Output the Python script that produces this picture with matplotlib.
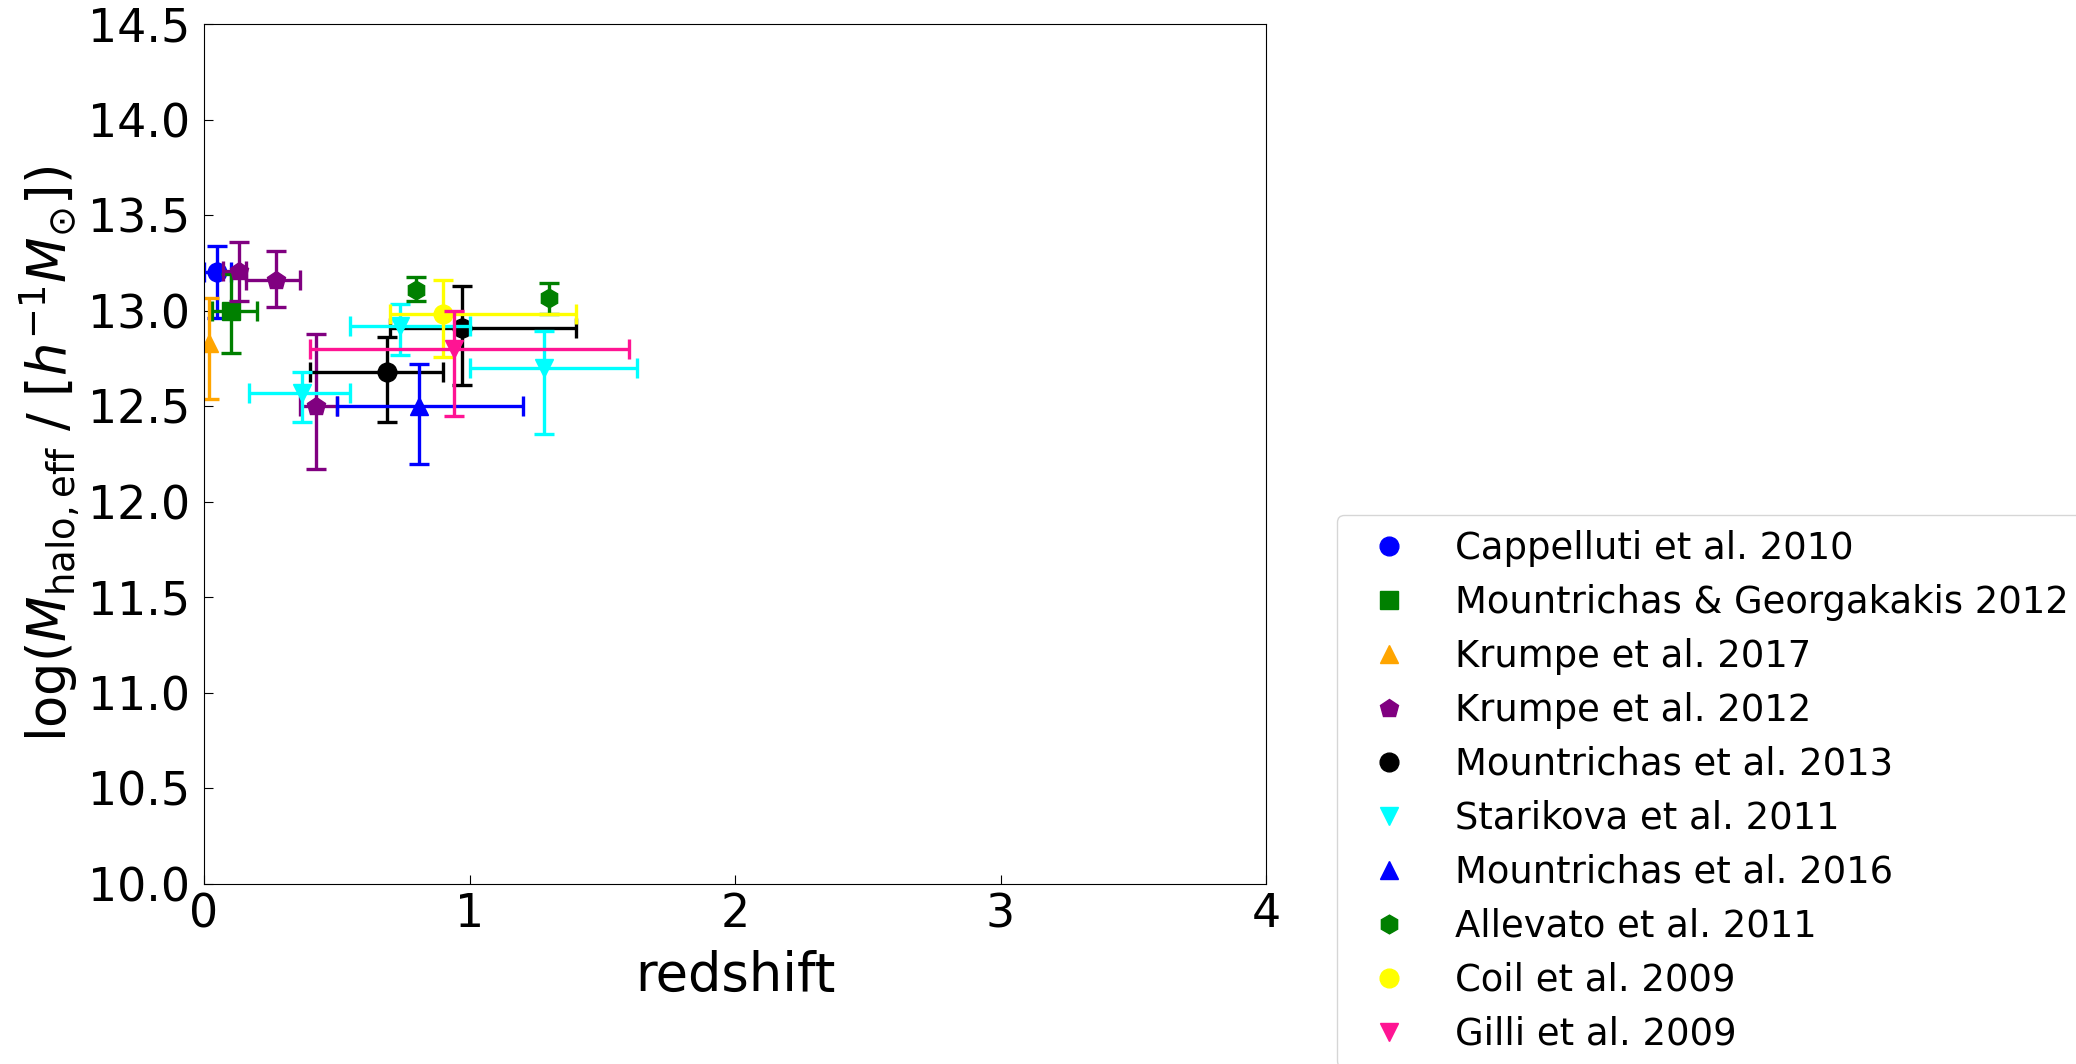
import numpy as np
import matplotlib
matplotlib.use("Agg")
import matplotlib.pyplot as plt

# ---- data ----
labels = ["Cappelluti et al. 2010", "Mountrichas & Georgakakis 2012", "Krumpe et al. 2017",
          "Krumpe et al. 2012", "Mountrichas et al. 2013", "Starikova et al. 2011",
          "Mountrichas et al. 2016", "Allevato et al. 2011", "Coil et al. 2009", "Gilli et al. 2009"]
colors = ["blue", "green", "orange", "purple", "black", "cyan", "blue", "green", "yellow", "deeppink"]
markers = ["o", "s", "^", "p", "o", "v", "^", "h", "o", "v"]

cap_z = [0.05];              cap_zlo = [0.00];              cap_zhi = [0.10]
cap_m = [13.20];             cap_mlo = [12.96];             cap_mhi = [13.34]

mg12_z = [0.10];             mg12_zlo = [0.03];             mg12_zhi = [0.20]
mg12_m = [13.00];            mg12_mlo = [12.78];            mg12_mhi = [13.19]

kr17_z = [0.02];             kr17_zlo = [0.02];             kr17_zhi = [0.02]
kr17_m = [12.83];            kr17_mlo = [12.54];            kr17_mhi = [13.065]

kr12_z = [0.13, 0.27, 0.42]; kr12_zlo = [0.07, 0.16, 0.36]; kr12_zhi = [0.16, 0.36, 0.50]
kr12_m = [13.21, 13.16, 12.50]; kr12_mlo = [13.05, 13.02, 12.17]; kr12_mhi = [13.36, 13.31, 12.88]

mo13_z = [0.69, 0.97];       mo13_zlo = [0.40, 0.70];       mo13_zhi = [0.90, 1.40]
mo13_m = [12.68, 12.91];     mo13_mlo = [12.42, 12.61];     mo13_mhi = [12.86, 13.13]

st11_z = [0.37, 0.74, 1.28]; st11_zlo = [0.17, 0.55, 1.00]; st11_zhi = [0.55, 1.00, 1.63]
st11_m = [12.57, 12.92, 12.70]; st11_mlo = [12.415, 12.77, 12.355]; st11_mhi = [12.68, 13.035, 12.895]

mo16_z = [0.81];             mo16_zlo = [0.50];             mo16_zhi = [1.20]
mo16_m = [12.50];            mo16_mlo = [12.20];            mo16_mhi = [12.72]

al11_z = [0.80, 1.30];       al11_zlo = [0.80, 1.30];       al11_zhi = [0.80, 1.30]
al11_m = [13.11, 13.065];    al11_mlo = [13.05, 12.98];     al11_mhi = [13.175, 13.145]

co09_z = [0.90];             co09_zlo = [0.70];             co09_zhi = [1.40]
co09_m = [12.985];           co09_mlo = [12.76];            co09_mhi = [13.16]

gi09_z = [0.94];             gi09_zlo = [0.40];             gi09_zhi = [1.60]
gi09_m = [12.80];            gi09_mlo = [12.45];            gi09_mhi = [13.00]

series = [
    (cap_z, cap_zlo, cap_zhi, cap_m, cap_mlo, cap_mhi),
    (mg12_z, mg12_zlo, mg12_zhi, mg12_m, mg12_mlo, mg12_mhi),
    (kr17_z, kr17_zlo, kr17_zhi, kr17_m, kr17_mlo, kr17_mhi),
    (kr12_z, kr12_zlo, kr12_zhi, kr12_m, kr12_mlo, kr12_mhi),
    (mo13_z, mo13_zlo, mo13_zhi, mo13_m, mo13_mlo, mo13_mhi),
    (st11_z, st11_zlo, st11_zhi, st11_m, st11_mlo, st11_mhi),
    (mo16_z, mo16_zlo, mo16_zhi, mo16_m, mo16_mlo, mo16_mhi),
    (al11_z, al11_zlo, al11_zhi, al11_m, al11_mlo, al11_mhi),
    (co09_z, co09_zlo, co09_zhi, co09_m, co09_mlo, co09_mhi),
    (gi09_z, gi09_zlo, gi09_zhi, gi09_m, gi09_mlo, gi09_mhi),
]

xticks = [0, 1, 2, 3, 4]
yticks = [10.0, 10.5, 11.0, 11.5, 12.0, 12.5, 13.0, 13.5, 14.0, 14.5]

# ---- figure ----
fig = plt.figure(figsize=(20.76, 10.64), dpi=100)
ax = fig.add_axes([204 / 2076, 1 - 884 / 1064, (1266 - 204) / 2076, (884 - 24) / 1064])

for (z, zlo, zhi, m, mlo, mhi), lab, col, mk in zip(series, labels, colors, markers):
    z = np.array(z); m = np.array(m)
    xerr = np.vstack([z - np.array(zlo), np.array(zhi) - z])
    yerr = np.vstack([m - np.array(mlo), np.array(mhi) - m])
    has_x = np.any(xerr > 0)
    ax.errorbar(z, m, xerr=xerr if has_x else None, yerr=yerr, fmt="none",
                ecolor=col, elinewidth=2.4, capsize=7.5, capthick=2.4)
    ax.plot(z, m, linestyle="none", marker=mk, color=col, markersize=13.5, label=lab)

ax.set_xlim(0, 4)
ax.set_ylim(10.0, 14.5)
ax.set_xticks(xticks)
ax.set_xticklabels([str(t) for t in xticks])
ax.set_yticks(yticks)
ax.set_yticklabels(["%.1f" % t for t in yticks])
ax.tick_params(direction="in", length=6.7, labelsize=33)
ax.tick_params(axis="y", pad=10)
ax.tick_params(axis="x", pad=6)
ax.set_xlabel("redshift", fontsize=38, labelpad=9)
ax.set_ylabel(r"log($M_{\rm halo,eff}$ / [$h^{-1}M_{\odot}$])", fontsize=38)

fig.legend(loc="upper left", bbox_to_anchor=(1337 / 2076, 1 - 515 / 1064),
           bbox_transform=fig.transFigure, borderaxespad=0, fontsize=26.6,
           labelspacing=0.46, numpoints=1)

fig.savefig("out.png", dpi=100)
